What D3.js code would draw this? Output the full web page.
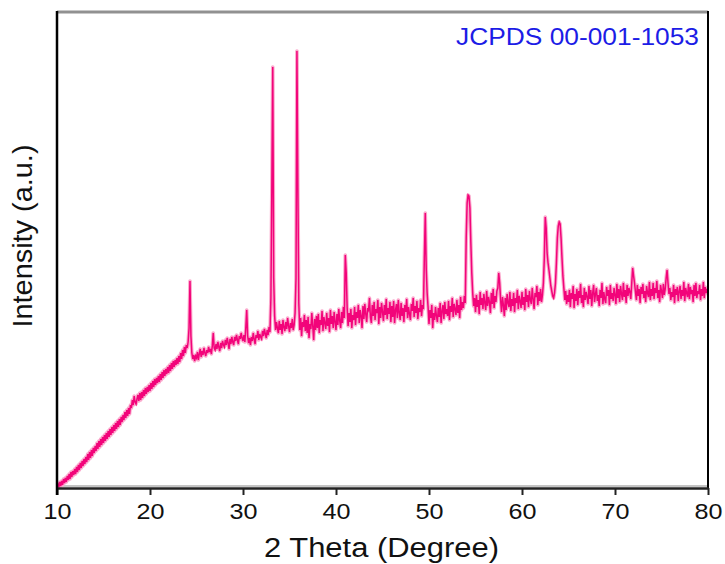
<!DOCTYPE html>
<html>
<head>
<meta charset="utf-8">
<script src="https://cdn.jsdelivr.net/npm/d3@7"></script>
<style>
  html, body { margin: 0; padding: 0; background: #fff; }
  svg { display: block; font-family: "Liberation Sans", Arial, sans-serif; }
</style>
</head>
<body>
<svg id="chart" width="725" height="564"></svg>
<script>
// 2θ grid start / step (degrees)
const thetaStart = 10;
const thetaStep = 0.1;
// Intensity (a.u.), one row per degree (10.0 … 79.9), then 80.0
const intensity = [
  0,4,1,6,2,7,3,9,5,10,
  6,12,8,14,9,16,11,17,13,19,
  14,21,16,23,18,25,20,27,22,29,
  24,31,26,34,28,36,30,38,32,40,
  35,42,37,45,39,47,41,49,43,51,
  45,53,47,55,49,57,51,59,53,61,
  55,63,57,65,59,67,61,69,63,71,
  66,73,68,76,70,78,72,80,74,83,
  80,88,83,92,86,84,89,93,87,95,
  88,96,90,98,92,100,94,101,96,103,
  97,105,99,107,101,109,103,110,105,112,
  106,114,108,116,110,118,112,119,114,121,
  115,123,117,125,119,127,121,128,123,130,
  124,132,126,135,129,138,132,141,135,143,
  140,146,160,207,152,135,129,133,127,132,
  130,136,128,134,139,131,137,133,140,135,
  132,138,135,141,136,139,134,142,155,140,
  138,144,139,146,141,137,145,140,147,143,
  141,148,143,150,145,139,149,144,151,146,
  143,151,147,153,148,144,152,149,155,150,
  147,153,146,160,178,152,145,150,143,151,
  147,155,149,144,153,150,157,148,154,151,
  149,157,152,159,154,150,158,153,161,156,
  190,300,421,210,172,158,166,160,155,167,
  158,164,154,168,161,157,166,159,170,162,
  156,165,160,169,158,163,175,210,437,300,
  185,158,170,152,166,161,173,157,168,155,
  171,150,164,159,175,162,148,169,158,172,
  160,174,155,168,163,177,157,171,165,159,
  175,162,170,156,178,164,172,160,176,166,
  158,174,163,179,167,160,176,165,181,170,
  233,215,180,162,175,166,179,160,173,168,
  181,163,176,170,183,165,178,172,160,182,
  169,184,174,166,180,178,190,171,165,183,
  172,186,168,179,175,188,164,181,170,185,
  176,167,183,173,189,169,180,174,186,166,
  182,171,187,165,178,184,170,188,175,168,
  185,172,180,166,183,176,189,170,181,174,
  168,184,177,190,171,182,175,187,169,180,
  176,188,172,183,179,230,275,220,195,181,
  164,178,170,183,160,175,168,181,172,166,
  180,171,185,165,177,183,169,186,174,179,
  172,187,168,182,176,190,171,184,179,173,
  188,175,183,170,191,178,186,180,192,185,
  250,285,293,292,280,245,215,195,182,190,
  176,193,181,188,174,196,183,190,179,194,
  185,178,197,182,191,186,175,195,184,199,
  180,192,186,197,200,215,205,188,176,191,
  183,172,190,178,194,185,181,196,177,189,
  182,195,176,190,185,198,179,192,187,180,
  196,183,191,178,199,186,193,181,197,188,
  184,200,189,179,195,191,202,183,196,187,
  199,186,193,205,230,271,260,235,225,218,
  210,202,197,192,190,195,205,225,250,262,
  266,264,250,230,212,200,188,197,184,193,
  186,198,181,195,189,202,180,194,187,199,
  183,197,190,204,185,193,181,200,188,196,
  191,184,202,189,198,182,195,203,186,194,
  200,187,193,182,198,190,205,184,196,189,
  185,201,192,198,183,203,189,195,187,200,
  193,184,204,190,199,186,202,194,188,205,
  191,198,185,203,192,200,196,189,205,220,
  212,205,196,188,203,192,199,185,201,194,
  204,190,197,186,202,195,191,206,188,199,
  192,205,189,200,195,207,190,198,186,203,
  197,190,204,193,199,210,218,205,194,200,
  188,196,191,203,185,199,193,201,187,197,
  202,189,198,192,206,187,200,195,191,204,
  189,201,194,198,186,203,192,205,190,197,
  194,203,188,199,192,206,190,201,195,199,
  193
];
const xTicks = [10, 20, 30, 40, 50, 60, 70, 80];
const xDomain = [10, 80];
const yDomain = [0, 476];
const xTitle = "2 Theta (Degree)";
const yTitle = "Intensity (a.u.)";
const cardLabel = "JCPDS 00-001-1053";

const data = intensity.map((v, i) => ({ t: thetaStart + i * thetaStep, v }));

const W = 725, H = 564;
const m = { left: 57, right: 17, top: 12, bottom: 76 };
const svg = d3.select("#chart");

const x = d3.scaleLinear().domain(xDomain).range([m.left, W - m.right]);
const y = d3.scaleLinear().domain(yDomain).range([H - m.bottom, m.top]);

const clipId = "plotclip";
svg.append("clipPath").attr("id", clipId)
  .append("rect").attr("x", m.left).attr("y", m.top)
  .attr("width", W - m.left - m.right).attr("height", H - m.top - m.bottom);

// frame: top gray, inner bottom gray
svg.append("line").attr("x1", m.left).attr("x2", W - m.right)
  .attr("y1", m.top).attr("y2", m.top)
  .attr("stroke", "#919191").attr("stroke-width", 3);
svg.append("line").attr("x1", m.left).attr("x2", W - m.right)
  .attr("y1", H - m.bottom - 2).attr("y2", H - m.bottom - 2)
  .attr("stroke", "#c4c4c4").attr("stroke-width", 2);

// data line
const line = d3.line().x(d => x(d.t)).y(d => y(d.v));
const g = svg.append("g").attr("clip-path", `url(#${clipId})`);
g.append("path").datum(data).attr("d", line)
  .attr("fill", "none").attr("stroke", "#fba8cc").attr("stroke-width", 3.6)
  .attr("stroke-linejoin", "round");
g.append("path").datum(data).attr("d", line)
  .attr("fill", "none").attr("stroke", "#f2047a").attr("stroke-width", 1.5)
  .attr("stroke-linejoin", "miter");

svg.append("line").attr("x1", W - m.right).attr("x2", W - m.right)
  .attr("y1", m.top - 1).attr("y2", H - m.bottom)
  .attr("stroke", "#000").attr("stroke-width", 2);

// x axis
const xAxis = d3.axisBottom(x).tickValues(xTicks).tickSize(7).tickSizeOuter(0).tickPadding(8);
const ax = svg.append("g").attr("transform", `translate(0,${H - m.bottom})`).call(xAxis);
ax.select(".domain").attr("stroke", "#222").attr("stroke-width", 2.5);
ax.selectAll(".tick line").attr("stroke", "#222").attr("stroke-width", 2);
ax.selectAll(".tick text")
  .attr("font-size", 22).attr("fill", "#111")
  .attr("font-family", "Liberation Sans, Arial, sans-serif")
  .attr("textLength", 28).attr("lengthAdjust", "spacingAndGlyphs");

// y axis line (no ticks)
svg.append("line").attr("x1", m.left).attr("x2", m.left)
  .attr("y1", m.top - 1).attr("y2", H - m.bottom + 7)
  .attr("stroke", "#000").attr("stroke-width", 2.5);

// titles
svg.append("text").attr("x", (263 + 500) / 2).attr("y", 557)
  .attr("text-anchor", "middle").attr("font-size", 27).attr("fill", "#111")
  .attr("textLength", 235).attr("lengthAdjust", "spacingAndGlyphs")
  .text(xTitle);

svg.append("text")
  .attr("transform", `translate(32,236) rotate(-90)`)
  .attr("text-anchor", "middle").attr("font-size", 28).attr("fill", "#111")
  .attr("textLength", 183).attr("lengthAdjust", "spacingAndGlyphs")
  .text(yTitle);

svg.append("text").attr("x", 699).attr("y", 45)
  .attr("text-anchor", "end").attr("font-size", 23).attr("fill", "#1c1ce6")
  .attr("textLength", 243).attr("lengthAdjust", "spacingAndGlyphs")
  .text(cardLabel);
</script>
</body>
</html>
